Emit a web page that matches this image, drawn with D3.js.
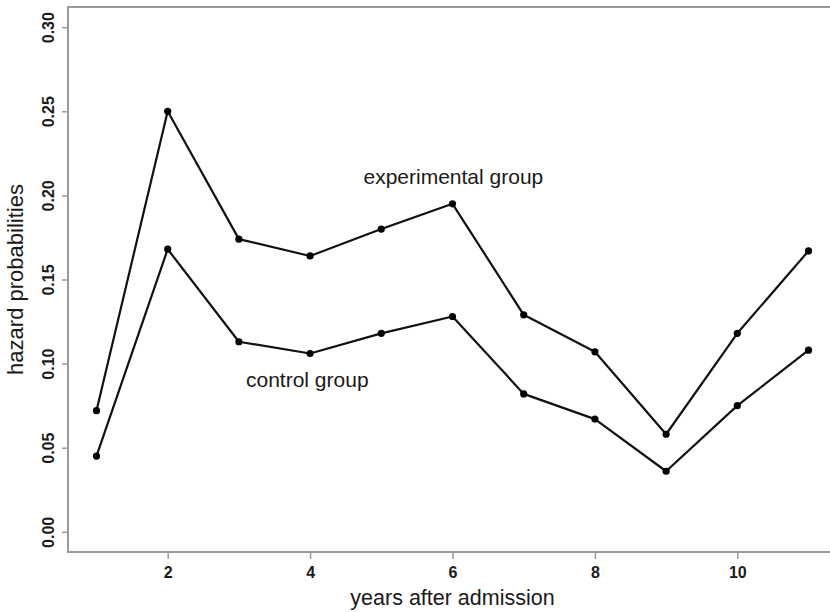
<!DOCTYPE html>
<html>
<head>
<meta charset="utf-8">
<script src="https://cdn.jsdelivr.net/npm/d3@7"></script>
<style>
  html, body { margin: 0; padding: 0; background: #fff; }
  svg { display: block; }
  text { font-family: "Liberation Sans", Arial, Helvetica, sans-serif; fill: #1a1a1a; }
</style>
</head>
<body>
<svg id="chart" width="830" height="612"></svg>
<script>
// ---- data ----
const years = [1, 2, 3, 4, 5, 6, 7, 8, 9, 10, 11];
const experimental = [0.072, 0.250, 0.174, 0.164, 0.180, 0.195, 0.129, 0.107, 0.058, 0.118, 0.167];
const control = [0.045, 0.168, 0.113, 0.106, 0.118, 0.128, 0.082, 0.067, 0.036, 0.075, 0.108];
const xTicks = [2, 4, 6, 8, 10];
const yTicks = [0.00, 0.05, 0.10, 0.15, 0.20, 0.25, 0.30];
const seriesLabels = [
  { text: "experimental group", x: 4.75, y: 0.2065 },
  { text: "control group", x: 3.1, y: 0.0862 }
];
const xTitle = "years after admission";
const yTitle = "hazard probabilities";

// ---- layout ----
const svg = d3.select("#chart");
const pLeft = 68, pRight = 837, pTop = 7, pBottom = 552;
const x = d3.scaleLinear().domain([0.6, 11.4]).range([pLeft, pRight]);
const y = d3.scaleLinear().domain([-0.012, 0.312]).range([pBottom, pTop]);
const axisColor = "#9a9a9a";

// plot box (right side falls outside the view)
svg.append("rect")
  .attr("x", pLeft).attr("y", pTop)
  .attr("width", pRight - pLeft).attr("height", pBottom - pTop)
  .attr("fill", "none").attr("stroke", axisColor).attr("stroke-width", 2);

// x axis
const xAxis = d3.axisBottom(x).tickValues(xTicks).tickSize(7).tickPadding(8)
  .tickFormat(d3.format("d"));
const gx = svg.append("g").attr("transform", `translate(0,${pBottom})`).call(xAxis);
gx.select(".domain").remove();
gx.selectAll(".tick line").attr("stroke", axisColor).attr("stroke-width", 1.5);
gx.selectAll(".tick text")
  .attr("font-size", 16).attr("font-weight", "bold")
  .attr("font-family", "Liberation Sans, Arial, sans-serif")
  .attr("fill", "#1a1a1a");

// y axis
const yAxis = d3.axisLeft(y).tickValues(yTicks).tickSize(6).tickFormat(d3.format(".2f"));
const gy = svg.append("g").attr("transform", `translate(${pLeft},0)`).call(yAxis);
gy.select(".domain").remove();
gy.selectAll(".tick line").attr("stroke", axisColor).attr("stroke-width", 1.5);
gy.selectAll(".tick text")
  .attr("font-size", 16).attr("font-weight", "bold")
  .attr("font-family", "Liberation Sans, Arial, sans-serif")
  .attr("fill", "#1a1a1a")
  .attr("x", null).attr("dy", null)
  .attr("text-anchor", "middle")
  .attr("transform", "translate(-14,0) rotate(-90)");

// lines
const line = d3.line().x((d, i) => x(years[i])).y(d => y(d));
[experimental, control].forEach(series => {
  svg.append("path")
    .attr("d", line(series))
    .attr("fill", "none")
    .attr("stroke", "#111")
    .attr("stroke-width", 2.2)
    .attr("stroke-linejoin", "round");
  svg.append("g").selectAll("circle")
    .data(series)
    .join("circle")
    .attr("cx", (d, i) => x(years[i]))
    .attr("cy", d => y(d))
    .attr("r", 3.6)
    .attr("fill", "#000");
});

// series labels
svg.selectAll(".slabel")
  .data(seriesLabels)
  .join("text")
  .attr("class", "slabel")
  .attr("x", d => x(d.x))
  .attr("y", d => y(d.y))
  .attr("font-size", 21)
  .text(d => d.text);

// axis titles
svg.append("text")
  .attr("x", (pLeft + pRight) / 2)
  .attr("y", 605)
  .attr("text-anchor", "middle")
  .attr("font-size", 21.5)
  .text(xTitle);

svg.append("text")
  .attr("transform", `translate(23,${(pTop + pBottom) / 2}) rotate(-90)`)
  .attr("text-anchor", "middle")
  .attr("font-size", 22)
  .text(yTitle);
</script>
</body>
</html>
